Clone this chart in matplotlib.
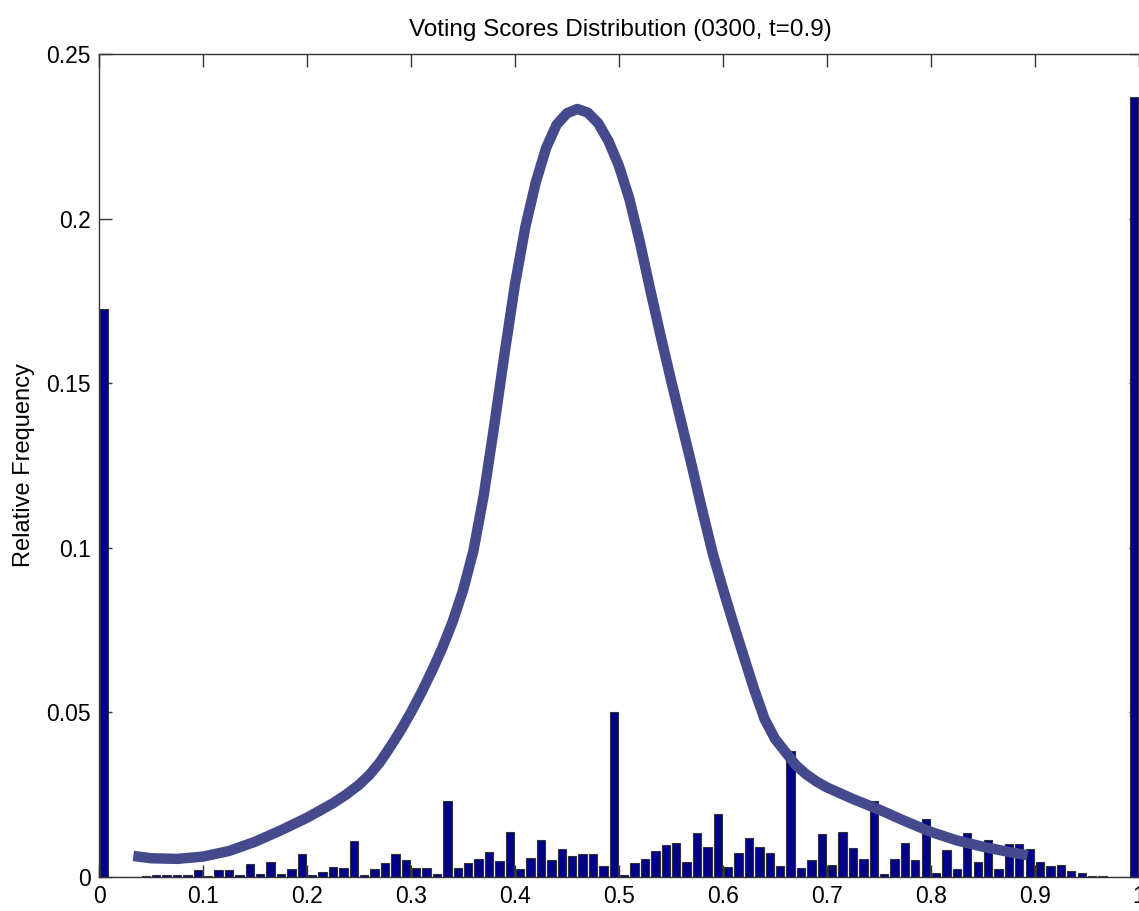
import matplotlib
matplotlib.use("Agg")

import matplotlib.pyplot as plt
import numpy as np

# ── Data ──
# histogram: 100 bins of width 0.01, value = relative frequency
bin_centers = np.arange(100) * 0.01 + 0.005
bin_heights = [
    0.1725, 0.0, 0.0, 0.0, 0.0003, 0.0005, 0.0007, 0.0007, 0.0007, 0.0020,
    0.0004, 0.0020, 0.0020, 0.0006, 0.0040, 0.0010, 0.0046, 0.0010, 0.0023, 0.0069,
    0.0006, 0.0014, 0.0030, 0.0027, 0.0110, 0.0006, 0.0023, 0.0042, 0.0069, 0.0051,
    0.0027, 0.0027, 0.0010, 0.0231, 0.0027, 0.0042, 0.0055, 0.0075, 0.0048, 0.0137,
    0.0023, 0.0059, 0.0113, 0.0052, 0.0086, 0.0065, 0.0069, 0.0069, 0.0034, 0.0502,
    0.0006, 0.0042, 0.0055, 0.0079, 0.0096, 0.0102, 0.0045, 0.0133, 0.0092, 0.0190,
    0.0030, 0.0072, 0.0117, 0.0092, 0.0072, 0.0034, 0.0383, 0.0027, 0.0052, 0.0130,
    0.0037, 0.0137, 0.0089, 0.0055, 0.0231, 0.0010, 0.0055, 0.0102, 0.0052, 0.0176,
    0.0013, 0.0082, 0.0023, 0.0133, 0.0045, 0.0112, 0.0023, 0.0099, 0.0099, 0.0085,
    0.0045, 0.0034, 0.0037, 0.0017, 0.0013, 0.0004, 0.0004, 0.0, 0.0, 0.2369,
]

# fitted density curve (read at many points so it draws smooth)
curve_x = [0.033, 0.05, 0.075, 0.1, 0.125, 0.15, 0.175, 0.2, 0.225, 0.2375,
           0.25, 0.26, 0.27, 0.28, 0.29, 0.30, 0.31, 0.32, 0.33, 0.34,
           0.35, 0.36, 0.37, 0.38, 0.39, 0.40, 0.41, 0.42, 0.43, 0.44,
           0.45, 0.46, 0.47, 0.48, 0.49, 0.50, 0.51, 0.52, 0.53, 0.54,
           0.55, 0.56, 0.57, 0.58, 0.59, 0.60, 0.61, 0.62, 0.63, 0.64,
           0.65, 0.66, 0.67, 0.68, 0.69, 0.70, 0.725, 0.75, 0.775, 0.8,
           0.825, 0.85, 0.875, 0.893]
curve_y = [0.0064, 0.0057, 0.0055, 0.0062, 0.0079, 0.0107, 0.0142, 0.0180, 0.0224, 0.0250,
           0.0280, 0.0310, 0.0348, 0.0395, 0.0445, 0.0500, 0.0560, 0.0625, 0.0695, 0.0775,
           0.0870, 0.0990, 0.1160, 0.1370, 0.1590, 0.1800, 0.1975, 0.2110, 0.2215, 0.2285,
           0.2320, 0.2333, 0.2322, 0.2290, 0.2235, 0.2160, 0.2060, 0.1930, 0.1785, 0.1645,
           0.1510, 0.1380, 0.1250, 0.1115, 0.0985, 0.0875, 0.0770, 0.0670, 0.0570, 0.0480,
           0.0420, 0.0380, 0.0340, 0.0312, 0.0290, 0.0272, 0.0237, 0.0205, 0.0170, 0.0137,
           0.0111, 0.0092, 0.0076, 0.0066]

x_ticks = [0, 0.1, 0.2, 0.3, 0.4, 0.5, 0.6, 0.7, 0.8, 0.9, 1]
x_tick_labels = ["0", "0.1", "0.2", "0.3", "0.4", "0.5", "0.6", "0.7", "0.8", "0.9", "1"]
y_ticks = [0, 0.05, 0.1, 0.15, 0.2, 0.25]
y_tick_labels = ["0", "0.05", "0.1", "0.15", "0.2", "0.25"]

plt.rcParams["font.family"] = ["Liberation Sans", "DejaVu Sans"]

W, H = 1139, 911
fig = plt.figure(figsize=(W / 100, H / 100), dpi=100)
fig.patch.set_facecolor("white")
ax = fig.add_axes([99 / W, (H - 877) / H, 1042 / W, (877 - 54) / H])

# ── Bars ──
ax.bar(bin_centers, bin_heights, width=0.008, color="#000088",
       edgecolor="#333333", linewidth=0.8, zorder=2)

# ── Curve ──
ax.plot(curve_x, curve_y, color="#454a8c", linewidth=7.5,
        solid_capstyle="butt", solid_joinstyle="round", zorder=3)

# ── Styling (MATLAB look) ──
ax.set_xlim(0, 1.002)
ax.set_ylim(0, 0.25)
ax.set_xticks(x_ticks)
ax.set_xticklabels(x_tick_labels)
ax.set_yticks(y_ticks)
ax.set_yticklabels(y_tick_labels)
ax.tick_params(direction="in", top=True, right=True, length=9, width=1,
               labelsize=16.5, color="#333333", pad=6)
for side in ax.spines.values():
    side.set_color("#333333")
    side.set_linewidth(1)

ax.set_ylabel("Relative Frequency", fontsize=17, labelpad=8)
ax.set_title("Voting Scores Distribution (0300, t=0.9)", fontsize=17.5, pad=13)

fig.savefig("out.png", dpi=100, facecolor="white")
plt.close(fig)
